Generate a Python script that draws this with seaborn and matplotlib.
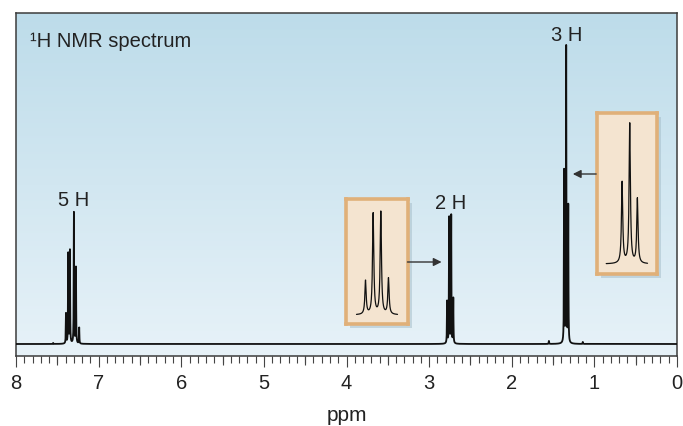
import numpy as np
import pandas as pd
import matplotlib
matplotlib.use("Agg")
import matplotlib.pyplot as plt
import seaborn as sns
from matplotlib.patches import Rectangle
from matplotlib.colors import LinearSegmentedColormap

# ---- data (ppm, height above baseline) ----
phenyl_ppm = [7.395, 7.368, 7.347, 7.299, 7.274, 7.235]
phenyl_h = [30, 90, 93, 131, 76, 16]
ch2_ppm = [2.7825, 2.7575, 2.7325, 2.7075]
ch2_h = [42, 126, 128, 45]
ch3_ppm = [1.366, 1.341, 1.316]
ch3_h = [172, 296, 137]
minor_ppm = [1.55, 1.14, 7.55]
minor_h = [3, 2, 1]
line_hwhm = 0.0025
peak_labels = ["5 H", "2 H", "3 H"]
tick_values = [8, 7, 6, 5, 4, 3, 2, 1, 0]
tick_labels = ["8", "7", "6", "5", "4", "3", "2", "1", "0"]

sns.set_theme(style="white")
plt.rcParams["font.family"] = ["Liberation Sans", "DejaVu Sans"]

all_ppm = phenyl_ppm + ch2_ppm + ch3_ppm + minor_ppm
all_h = phenyl_h + ch2_h + ch3_h + minor_h
ppm = np.linspace(0, 8, 80001)
intensity = np.zeros_like(ppm)
for p, h in zip(all_ppm, all_h):
    intensity += h / (1 + ((ppm - p) / line_hwhm) ** 2)
spec = pd.DataFrame({"ppm": ppm, "intensity": intensity})

fig = plt.figure(figsize=(6.83, 4.26), dpi=100)
ax = fig.add_axes([16 / 683, 1 - 356 / 426, 661 / 683, 343 / 426])

# background gradient
cmap = LinearSegmentedColormap.from_list("bg", ["#e7f2f8", "#bddcea"])
grad = np.linspace(0, 1, 256).reshape(-1, 1)
ax.imshow(grad, extent=[0, 1, 0, 1], transform=ax.transAxes, aspect="auto",
          cmap=cmap, origin="lower", zorder=0)

sns.lineplot(data=spec, x="ppm", y="intensity", ax=ax, color="#111111",
             linewidth=1.3, estimator=None, sort=False, zorder=3)

ax.set_xlim(8, 0)
ax.set_ylim(-12, 331)
ax.set_yticks([])
ax.set_ylabel("")
ax.set_xticks(tick_values)
ax.set_xticklabels(tick_labels)
ax.set_xticks(np.arange(0, 8.001, 0.1), minor=True)
ax.tick_params(axis="x", which="major", direction="out", length=8, width=0.8,
               color="#444444", labelsize=14.5, pad=5, bottom=True,
               labelcolor="#222222")
ax.tick_params(axis="x", which="minor", direction="out", length=5, width=0.8,
               color="#444444", bottom=True)
ax.set_xlabel("ppm", fontsize=15, labelpad=9, color="#222222")
for s in ax.spines.values():
    s.set_color("#3c3c3c")
    s.set_linewidth(1.1)

# half-ppm ticks slightly longer
sec = ax.secondary_xaxis("bottom")
sec.set_xticks(np.arange(0.5, 8, 1.0))
sec.set_xticklabels([])
sec.tick_params(length=6.5, width=0.8, color="#444444", direction="out")
sec.spines["bottom"].set_visible(False)

# title
ax.text(0.021, 0.902, "\u00b9H NMR spectrum", transform=ax.transAxes,
        fontsize=14.5, va="baseline", ha="left", color="#222222")

# integration labels above the tallest line of each multiplet
groups = [(phenyl_ppm, phenyl_h), (ch2_ppm, ch2_h), (ch3_ppm, ch3_h)]
for (gp, gh), lab in zip(groups, peak_labels):
    i = int(np.argmax(gh))
    cx = float(np.mean([gp[j] for j in np.argsort(gh)[-2:]])) if lab == "2 H" else gp[i]
    ax.annotate(lab, xy=(cx, gh[i]), xytext=(0, 5), textcoords="offset points",
                ha="center", va="baseline", fontsize=14.5, color="#222222")

# inset boxes
def make_inset(bounds, center, half_width, curve_lo, curve_hi, ylim):
    x0, y0, w, h = bounds
    shadow = Rectangle((x0 + 4 / 661, y0 - 4 / 343), w, h, transform=ax.transAxes,
                       facecolor="#a3bcc8", alpha=0.5, edgecolor="none", zorder=4)
    ax.add_patch(shadow)
    ins = ax.inset_axes(bounds, zorder=5)
    ins.set_facecolor("#f4e4d0")
    m = (spec["ppm"] >= curve_lo) & (spec["ppm"] <= curve_hi)
    sub = spec[m].copy()
    sub["norm"] = sub["intensity"] / sub["intensity"].max()
    sns.lineplot(data=sub, x="ppm", y="norm", ax=ins, color="#111111",
                 linewidth=0.9, estimator=None, sort=False)
    ins.set_xlim(center + half_width, center - half_width)
    ins.set_ylim(*ylim)
    ins.set_xticks([]); ins.set_yticks([])
    ins.set_xlabel(""); ins.set_ylabel("")
    for s in ins.spines.values():
        s.set_color("#e0b079")
        s.set_linewidth(2.6)
    return ins

make_inset([330 / 661, 32 / 343, 62 / 661, 125 / 343], 2.745, 0.1013,
           2.745 - 0.067, 2.745 + 0.067, (-0.087, 1.115))
make_inset([580.7 / 661, 82 / 343, 60 / 661, 161.3 / 343], 1.351, 0.098,
           1.283, 1.418, (-0.071, 1.071))

arrow = dict(arrowstyle="-|>", color="#333333", lw=1.0, mutation_scale=12,
             shrinkA=0, shrinkB=0)
ax.annotate("", xy=(2.849, 82), xytext=(3.262, 82), arrowprops=arrow, zorder=6)
ax.annotate("", xy=(1.261, 170), xytext=(0.978, 170), arrowprops=arrow, zorder=6)

fig.savefig("out.png", dpi=100, facecolor="white")
